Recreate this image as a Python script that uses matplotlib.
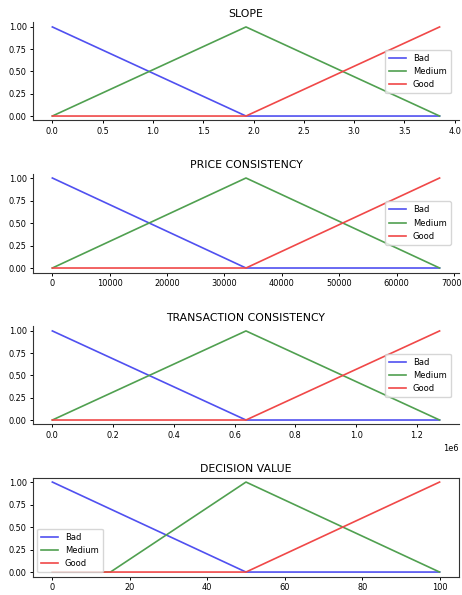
import matplotlib
matplotlib.use("Agg")
import matplotlib.pyplot as plt

titles = ["SLOPE", "PRICE CONSISTENCY", "TRANSACTION CONSISTENCY", "DECISION VALUE"]
labels = ["Bad", "Medium", "Good"]

# x breakpoints and membership values for each panel
slope_x = [0.0, 1.925, 3.85]
price_x = [0, 33750, 67500]
trans_x = [0.0, 0.6375e6, 1.275e6]
bad_y = [1, 0, 0]
med_y = [0, 1, 0]
good_y = [0, 0, 1]

dec_bad_x = [0, 50, 100]
dec_bad_y = [1, 0, 0]
dec_med_x = [0, 15, 50, 100]
dec_med_y = [0, 0, 1, 0]
dec_good_x = [0, 50, 100]
dec_good_y = [0, 0, 1]

colors = ["#5050f0", "#50a050", "#f04848"]

fig = plt.figure(figsize=(4.62, 5.95), dpi=100)
positions = [
    [0.0714, 0.7975, 0.922, 0.1647],
    [0.0714, 0.5420, 0.922, 0.1664],
    [0.0714, 0.2866, 0.922, 0.1647],
    [0.0714, 0.0310, 0.922, 0.1664],
]

tick_fs = 5.9
title_fs = 7.8
leg_fs = 6.0
lw = 1.2

def style(ax, title, boxed=False):
    ax.set_title(title, fontsize=title_fs, pad=4)
    ax.tick_params(labelsize=tick_fs, length=2.5, width=0.7, pad=2)
    for s in ax.spines.values():
        s.set_linewidth(0.8)
        s.set_color("#333333")
    if not boxed:
        ax.spines["top"].set_visible(False)
        ax.spines["right"].set_visible(False)
    ax.set_yticks([0, 0.25, 0.5, 0.75, 1.0])
    ax.set_ylim(-0.05, 1.05)
    ax.xaxis.get_offset_text().set_fontsize(tick_fs)

panels = [slope_x, price_x, trans_x]
for i, xs in enumerate(panels):
    ax = fig.add_axes(positions[i])
    for ys, c, lab in zip([bad_y, med_y, good_y], colors, labels):
        ax.plot(xs, ys, color=c, lw=lw, label=lab)
    style(ax, titles[i])
    ax.legend(loc="center right", fontsize=leg_fs, handlelength=2.0,
              borderpad=0.5, labelspacing=0.5, borderaxespad=1.0)

ax4 = fig.add_axes(positions[3])
ax4.plot(dec_bad_x, dec_bad_y, color=colors[0], lw=lw, label=labels[0])
ax4.plot(dec_med_x, dec_med_y, color=colors[1], lw=lw, label=labels[1])
ax4.plot(dec_good_x, dec_good_y, color=colors[2], lw=lw, label=labels[2])
style(ax4, titles[3], boxed=True)
ax4.legend(loc="lower left", fontsize=leg_fs, handlelength=2.0,
           borderpad=0.5, labelspacing=0.5)

fig.savefig("out.png", dpi=100)
